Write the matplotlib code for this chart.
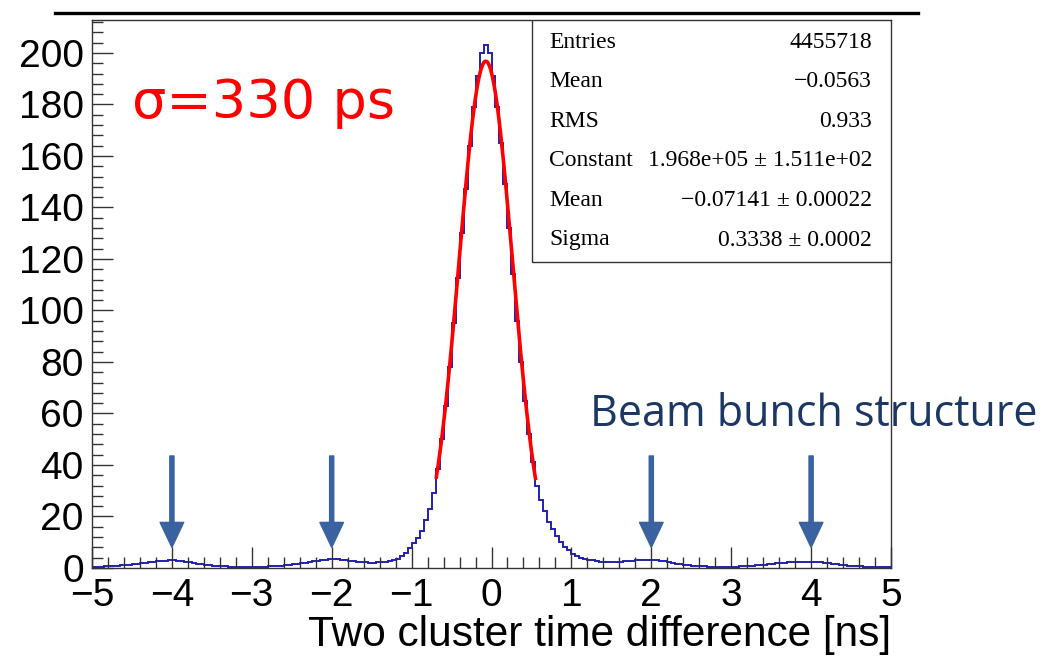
import numpy as np
import matplotlib

matplotlib.use("Agg")
import matplotlib.pyplot as plt
from matplotlib.lines import Line2D
from matplotlib.ticker import MultipleLocator

# histogram: 200 bins from -5 to 5 ns, counts in thousands
bin_edges = np.linspace(-5.0, 5.0, 201)
counts = [
    0.4, 0.45, 0.5, 0.6, 0.7, 0.8, 0.9, 1.0, 1.1, 1.25,
    1.4, 1.6, 1.8, 2.0, 2.2, 2.4, 2.6, 2.8, 2.9, 3.0,
    3.0, 2.9, 2.7, 2.5, 2.2, 1.9, 1.6, 1.4, 1.2, 1.0,
    0.9, 0.8, 0.7, 0.6, 0.55, 0.5, 0.5, 0.5, 0.5, 0.5,
    0.5, 0.5, 0.5, 0.55, 0.6, 0.7, 0.8, 0.9, 1.0, 1.2,
    1.4, 1.6, 1.8, 2.1, 2.4, 2.7, 2.9, 3.1, 3.3, 3.4,
    3.4, 3.4, 3.3, 3.1, 2.9, 2.7, 2.5, 2.3, 2.2, 2.1,
    2.1, 2.2, 2.3, 2.5, 2.7, 3.0, 3.6, 4.5, 5.8, 7.6,
    9.6, 11.8, 14.5, 18.5, 23.0, 29.0, 38.5, 50.0, 63.0, 78.0,
    95.0, 112.5, 130.0, 147.0, 164.0, 179.0, 191.0, 200.0, 203.0, 200.0,
    191.0, 179.0, 165.0, 149.0, 132.0, 114.0, 96.0, 80.0, 65.0, 52.0,
    41.0, 32.0, 26.5, 22.0, 18.0, 15.0, 12.4, 10.0, 8.2, 6.8,
    5.5, 4.6, 4.0, 3.6, 3.3, 3.0, 2.7, 2.5, 2.4, 2.3,
    2.3, 2.4, 2.5, 2.6, 2.7, 2.9, 3.0, 3.1, 3.2, 3.2,
    3.2, 3.1, 2.9, 2.6, 2.3, 2.0, 1.7, 1.4, 1.2, 1.0,
    0.9, 0.8, 0.7, 0.6, 0.5, 0.5, 0.45, 0.45, 0.45, 0.5,
    0.5, 0.55, 0.6, 0.7, 0.8, 0.9, 1.0, 1.1, 1.3, 1.4,
    1.6, 1.8, 1.9, 2.1, 2.2, 2.3, 2.4, 2.5, 2.5, 2.5,
    2.5, 2.4, 2.3, 2.1, 1.9, 1.7, 1.5, 1.3, 1.1, 0.9,
    0.8, 0.7, 0.6, 0.5, 0.45, 0.4, 0.35, 0.3, 0.3, 0.3,
]

# gaussian fit parameters (from the stats box), fit range in ns
fit_const = 196.8
fit_mean = -0.07141
fit_sigma = 0.3338
fit_range = (-0.69, 0.55)

stats_labels = ["Entries", "Mean", "RMS", "Constant", "Mean", "Sigma"]
stats_values = ["4455718", "\u22120.0563", "0.933", "1.968e+05 \u00b1 1.511e+02",
                "\u22120.07141 \u00b1 0.00022", "0.3338 \u00b1 0.0002"]

bunch_positions = [-4, -2, 2, 4]

W, H = 1045, 656
fig = plt.figure(figsize=(W / 100, H / 100), dpi=100)
ax = fig.add_axes([92 / W, 88 / H, 799 / W, 548 / H])

ax.stairs(counts, bin_edges, baseline=None, color="#2020b0", lw=1.4)

xf = np.linspace(fit_range[0], fit_range[1], 300)
yf = fit_const * np.exp(-0.5 * ((xf - fit_mean) / fit_sigma) ** 2)
ax.plot(xf, yf, color="#ff0000", lw=2.6)

ax.set_xlim(-5, 5)
ax.set_ylim(0, 212.8)
ax.xaxis.set_major_locator(MultipleLocator(1))
ax.xaxis.set_minor_locator(MultipleLocator(0.2))
ax.yaxis.set_major_locator(MultipleLocator(20))
ax.yaxis.set_minor_locator(MultipleLocator(4))
ax.tick_params(which="both", direction="in", top=False, right=False, width=1, color="#333333")
ax.tick_params(which="major", length=15)
ax.tick_params(which="minor", length=8)
ax.tick_params(axis="y", pad=6)
ax.tick_params(axis="x", pad=7)
for lab in ax.get_xticklabels() + ax.get_yticklabels():
    lab.set_fontfamily("Liberation Sans")
    lab.set_fontsize(28)
for sp in ax.spines.values():
    sp.set_linewidth(1)
    sp.set_color("#333333")

ax.set_xlabel("Two cluster time difference [ns]", loc="right",
              fontfamily="Liberation Sans", fontsize=30.5, labelpad=1)

# stats box
box_x0, box_y0 = (532 - 92) / 799, (568 - 262) / 548
ax.add_patch(plt.Rectangle((box_x0, box_y0), 1 - box_x0, 1 - box_y0, transform=ax.transAxes,
                           facecolor="white", edgecolor="#333333", lw=1, zorder=5))
for i, (lab, val) in enumerate(zip(stats_labels, stats_values)):
    ty = (568 - (42 + 39.6 * i)) / 548
    ax.text((549 - 92) / 799, ty, lab, transform=ax.transAxes, ha="left", va="center",
            fontfamily="Liberation Serif", fontsize=17, zorder=6)
    ax.text((872 - 92) / 799, ty, val, transform=ax.transAxes, ha="right", va="center",
            fontfamily="Liberation Serif", fontsize=17, zorder=6)

# annotations
ax.text(-4.5, 180.5, "\u03c3=330 ps", color="#ff0000", fontsize=39, fontfamily="DejaVu Sans",
        ha="left", va="center")
fig.text(1037 / W, 1 - 415 / H, "Beam bunch structure", color="#1b3764", fontsize=31,
         fontfamily="Open Sans", ha="right", va="center")
for bx in bunch_positions:
    ax.annotate("", xy=(bx, 8.0), xytext=(bx, 43.5),
                arrowprops=dict(facecolor="#3a62a0", edgecolor="#3a62a0",
                                width=3, headwidth=17, headlength=18, shrink=0))

# slide rule line above the plot
fig.add_artist(Line2D([55 / W, 918 / W], [1 - 13 / H, 1 - 13 / H], color="black", lw=2.4))

fig.savefig("out.png", dpi=100)
